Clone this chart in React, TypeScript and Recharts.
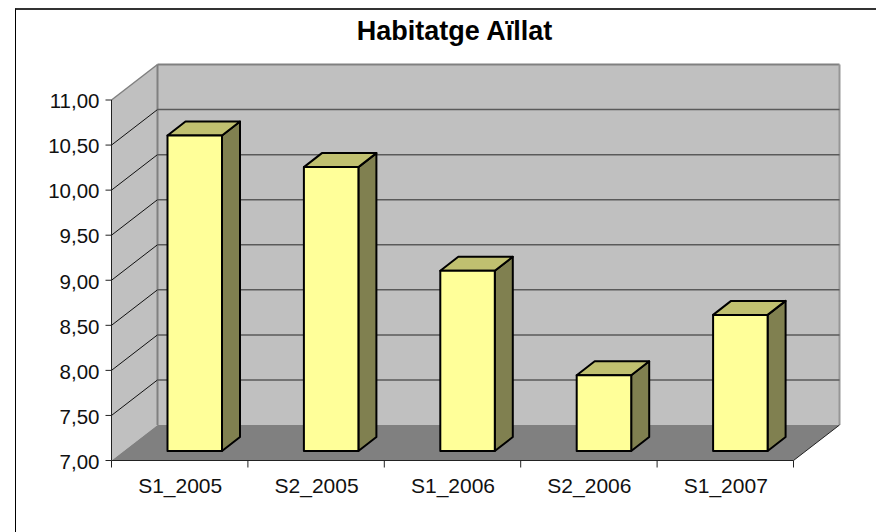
import { BarChart, Bar, XAxis, YAxis, CartesianGrid, usePlotArea } from 'recharts';

const categories = ['S1_2005', 'S2_2005', 'S1_2006', 'S2_2006', 'S1_2007'];
const values = [10.5, 10.15, 9.0, 7.84, 8.51];
const yTicks = [7, 7.5, 8, 8.5, 9, 9.5, 10, 10.5, 11];

const data = categories.map((name, i) => ({ name, value: values[i] }));

const FONT = 'Arial, "Liberation Sans", sans-serif';
const DX = 46;
const DY = 35.5;

// side wall, back wall and floor behind the plot
function Room() {
  const p = usePlotArea();
  if (!p) return null;
  const l = p.x;
  const r = p.x + p.width;
  const t = p.y;
  const b = p.y + p.height;
  return (
    <g>
      <polygon points={`${l + DX},${t - DY} ${r + DX},${t - DY} ${r + DX},${b - DY} ${l + DX},${b - DY}`} fill="#c0c0c0" />
      <polygon points={`${l},${t} ${l + DX},${t - DY} ${l + DX},${b - DY} ${l},${b}`} fill="#c0c0c0" />
      <polygon points={`${l},${b} ${l + DX},${b - DY} ${r + DX},${b - DY} ${r},${b}`} fill="#808080" />
      <line x1={l} y1={t} x2={l + DX} y2={t - DY} stroke="#808080" strokeWidth={1.5} />
      <line x1={l + DX} y1={t - DY} x2={r + DX} y2={t - DY} stroke="#808080" strokeWidth={2} />
      <line x1={l + DX} y1={t - DY} x2={l + DX} y2={b - DY} stroke="#808080" strokeWidth={2} />
      <line x1={r + DX} y1={t - DY} x2={r + DX} y2={b - DY} stroke="#969696" strokeWidth={2} />
      <line x1={r} y1={b} x2={r + DX} y2={b - DY} stroke="#222" strokeWidth={1} />
    </g>
  );
}

// gridline on the back wall plus its diagonal on the side wall
function gridLine(props: any) {
  const { x1, x2, y1, key } = props;
  if (Math.abs(y1 - 460.5) < 1 || Math.abs(y1 - 100) < 1) return <g key={key} />;
  return (
    <g key={key}>
      <line x1={x1} y1={y1} x2={x1 + DX} y2={y1 - DY} stroke="#111" strokeWidth={1} />
      <line x1={x1 + DX} y1={y1 - DY} x2={x2 + DX} y2={y1 - DY} stroke="#5a5a5a" strokeWidth={1.5} />
    </g>
  );
}

function Block(props: any) {
  const { x, y, width, height } = props;
  const fx = x + 15;
  const fy = y - 9.5;
  const dx = 18;
  const dy = 14;
  const stroke = { stroke: '#000', strokeWidth: 2, strokeLinejoin: 'round' as const };
  return (
    <g>
      <polygon points={`${fx + width},${fy} ${fx + width + dx},${fy - dy} ${fx + width + dx},${fy + height - dy} ${fx + width},${fy + height}`} fill="#808050" {...stroke} />
      <polygon points={`${fx},${fy} ${fx + dx},${fy - dy} ${fx + width + dx},${fy - dy} ${fx + width},${fy}`} fill="#c0c070" {...stroke} />
      <rect x={fx} y={fy} width={width} height={height} fill="#ffff99" {...stroke} />
    </g>
  );
}

function CategoryTick(props: any) {
  const { x, y, payload, index } = props;
  const half = payload.offset ?? 68.2;
  return (
    <g>
      <line x1={x - half} y1={y - 8} x2={x - half} y2={y - 1} stroke="#222" strokeWidth={1} />
      {index === categories.length - 1 && (
        <line x1={x + half} y1={y - 8} x2={x + half} y2={y - 1} stroke="#222" strokeWidth={1} />
      )}
      <text x={x + 0.5} y={y + 24} textAnchor="middle" fontSize={21} fontFamily={FONT} fill="#111">
        {payload.value}
      </text>
    </g>
  );
}

export default function App() {
  return (
    <div style={{ position: 'absolute', left: 0, top: 0, width: 876, height: 532, overflow: 'hidden', background: '#fff' }}>
      <div style={{ position: 'absolute', left: 15, top: 8, right: 0, bottom: 0, borderTop: '2px solid #333', borderLeft: '1.5px solid #000' }} />
      <BarChart
        width={876}
        height={532}
        data={data}
        margin={{ top: 100, right: 82.5, left: 0, bottom: 41.5 }}
        style={{ position: 'absolute', left: 0, top: 0 }}
      >
        <Room />
        <CartesianGrid vertical={false} horizontal={gridLine} zIndex={1} />
        <XAxis
          dataKey="name"
          height={30}
          stroke="#222"
          tickLine={false}
          tick={<CategoryTick />}
          interval={0}
        />
        <YAxis
          width={111.5}
          domain={[7, 11]}
          ticks={yTicks}
          interval={0}
          allowDataOverflow
          stroke="#222"
          tickSize={6}
          tickMargin={6}
          tick={{ fill: '#111', fontSize: 20.5, fontFamily: FONT, dy: 1 }}
          tickFormatter={(v: number) => v.toFixed(2).replace('.', ',')}
        />
        <Bar dataKey="value" barSize={54.5} shape={<Block />} isAnimationActive={false} />
        <text x={454.5} y={39.5} textAnchor="middle" fontSize={27} fontWeight="bold" fontFamily={FONT} fill="#000">
          Habitatge Aïllat
        </text>
      </BarChart>
    </div>
  );
}
